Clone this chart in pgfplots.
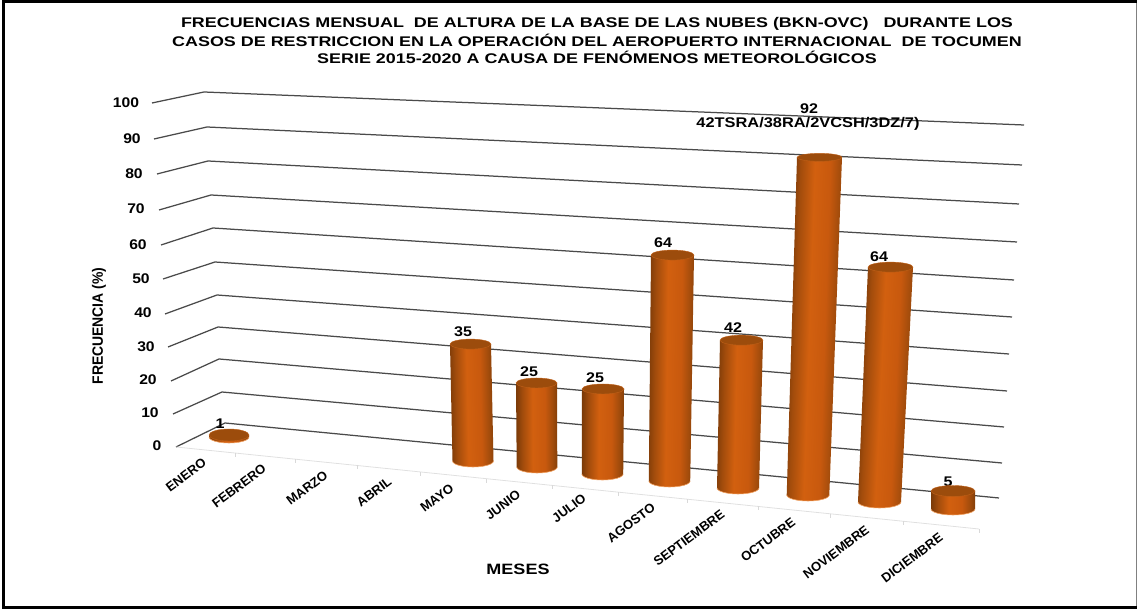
\documentclass[border=0pt]{standalone}
\usepackage{pgfplots}
\pgfplotsset{compat=1.18}
\usepackage{fontspec}
\setmainfont{Liberation Sans}
\definecolor{cylA}{HTML}{7A3A08}
\definecolor{cylB}{HTML}{A24C0C}
\definecolor{cylC}{HTML}{D2600F}
\definecolor{cylD}{HTML}{C8590E}
\definecolor{cylE}{HTML}{843F08}
\definecolor{cylTop}{HTML}{9C4C0C}
\definecolor{cylRim}{HTML}{C06018}
\definecolor{cylLow}{HTML}{F0A060}
\definecolor{gridc}{HTML}{4A4A4A}
\pgfdeclarehorizontalshading{cyl}{100bp}{color(0bp)=(cylA); color(25bp)=(cylA); color(33bp)=(cylB); color(45bp)=(cylC); color(60bp)=(cylD); color(69bp)=(cylB); color(75bp)=(cylE); color(100bp)=(cylE)}
\pgfdeclarehorizontalshading{cyltilt}{100bp}{color(0bp)=(cylA); color(29bp)=(cylA); color(35bp)=(cylB); color(46bp)=(cylC); color(58bp)=(cylD); color(66bp)=(cylB); color(71bp)=(cylE); color(100bp)=(cylE)}
% One cylinder: base x, base y (px), top x, VALUE, px per unit, half widths, half heights
\newcommand\cyl[9]{%
  \pgfmathsetmacro\ybase{609-#2}%
  \pgfmathsetmacro\ytop{609-#2+#4*#5}%
  \pgfmathsetmacro\xtl{#3-#7}\pgfmathsetmacro\xtr{#3+#7}%
  \pgfmathsetmacro\ang{-atan((#3-#1)/(#4*#5))}%
  \pgfmathsetmacro\ysc{#9/#7}%
  \pgfmathparse{abs(#3-#1)>6?"cyltilt":"cyl"}\edef\shn{\pgfmathresult}%
  \gdef\pts{}%
  \foreach \t in {0,15,...,180}{%
    \pgfmathsetmacro\px{#1+#6*cos(\t)}%
    \pgfmathsetmacro\py{\ybase-#8*sin(\t)}%
    \xdef\pts{\pts(\px,\py)}%
  }%
  \edef\doit{%
    \noexpand\addplot[draw=none,forget plot,no marks,shade,shading=\shn,shading angle=\ang]
      coordinates {(\xtl,\ytop)(\xtr,\ytop)\pts} -- cycle;
    \noexpand\addplot[forget plot,no marks,draw=cylLow,line width=0.6pt]
      coordinates {\pts};
    \noexpand\addplot[forget plot,only marks,mark=*,mark size=#7pt,
      mark options={fill=cylTop,draw=cylRim,line width=0.4pt,yscale=\ysc}]
      coordinates {(#3,\ytop)};
  }\doit
}
\newcommand\lab[5][]{\node[font=\bfseries\fontsize{#2}{#2}\selectfont,text=black,inner sep=0pt,#1] at #4 {\scalebox{#3}[1]{#5}};}
\begin{document}
\begin{tikzpicture}
\begin{axis}[hide axis,scale only axis,width=1138pt,height=609pt,
  xmin=0,xmax=1138,ymin=0,ymax=609,clip=false]
\path (axis cs:0,0) rectangle (axis cs:1138,609);
% frame
\addplot[gray,line width=1.6pt,forget plot,no marks] coordinates {(1136.5,1.5)(1136.5,607.5)};
\addplot[black,line width=3pt,forget plot,no marks] coordinates {(1136.5,607.5)(3,607.5)(3,1.5)(1136.5,1.5)};
% gridlines: left edge, back corner, right end
\addplot[gridc,line width=1.25pt,forget plot,no marks] coordinates {(176,162)(225,186)(999,111)};
\addplot[gridc,line width=1.25pt,forget plot,no marks] coordinates {(173,195)(222,217)(1002,146)};
\addplot[gridc,line width=1.25pt,forget plot,no marks] coordinates {(171,228)(219,250)(1004,182)};
\addplot[gridc,line width=1.25pt,forget plot,no marks] coordinates {(168,262)(218,282)(1007,218)};
\addplot[gridc,line width=1.25pt,forget plot,no marks] coordinates {(165,295)(217,314)(1009,255)};
\addplot[gridc,line width=1.25pt,forget plot,no marks] coordinates {(163,330)(215,347)(1012,292)};
\addplot[gridc,line width=1.25pt,forget plot,no marks] coordinates {(161,364)(213,381)(1014,329)};
\addplot[gridc,line width=1.25pt,forget plot,no marks] coordinates {(159,399)(211,414)(1017,367)};
\addplot[gridc,line width=1.25pt,forget plot,no marks] coordinates {(157,435)(208,448)(1019,405)};
\addplot[gridc,line width=1.25pt,forget plot,no marks] coordinates {(154,470)(207,482)(1022,444)};
\addplot[gridc,line width=1.25pt,forget plot,no marks] coordinates {(152,506)(204,517)(1024,484)};
% floor edge and ticks
\addplot[black!12,line width=0.8pt,forget plot,no marks] coordinates {(176,162)(979,80)};
\addplot[black!15,line width=0.7pt,forget plot,no marks] coordinates {(235,156)(235,152)};
\addplot[black!15,line width=0.7pt,forget plot,no marks] coordinates {(295,150)(295,146)};
\addplot[black!15,line width=0.7pt,forget plot,no marks] coordinates {(357,144)(357,140)};
\addplot[black!15,line width=0.7pt,forget plot,no marks] coordinates {(420,137)(420,133)};
\addplot[black!15,line width=0.7pt,forget plot,no marks] coordinates {(486,130)(486,126)};
\addplot[black!15,line width=0.7pt,forget plot,no marks] coordinates {(552,124)(552,120)};
\addplot[black!15,line width=0.7pt,forget plot,no marks] coordinates {(618,117)(618,113)};
\addplot[black!15,line width=0.7pt,forget plot,no marks] coordinates {(687,110)(687,106)};
\addplot[black!15,line width=0.7pt,forget plot,no marks] coordinates {(758,103)(758,99)};
\addplot[black!15,line width=0.7pt,forget plot,no marks] coordinates {(830,95)(830,91)};
\addplot[black!15,line width=0.7pt,forget plot,no marks] coordinates {(903,88)(903,84)};
\addplot[black!15,line width=0.7pt,forget plot,no marks] coordinates {(979,80)(979,76)};
% cylinders
\cyl{229}{437}{229}{1}{2}{20}{20}{6}{6}
\cyl{473}{461}{470.5}{35}{3.34}{20.5}{20.5}{6}{5}
\cyl{537}{467}{536.5}{25}{3.36}{20.3}{20.5}{6}{5}
\cyl{602.5}{474}{603}{25}{3.4}{20.7}{21}{6}{5}
\cyl{669.5}{481}{672.5}{64}{3.53}{20.7}{21.5}{6}{5}
\cyl{738}{488}{741.5}{42}{3.52}{21}{21.5}{6}{5}
\cyl{808}{495}{819.5}{92}{3.67}{21.3}{22.5}{6}{4}
\cyl{879.5}{502}{890.5}{64}{3.67}{21.5}{22.5}{6}{5}
\cyl{953}{509}{953}{5}{3.6}{22}{22}{6}{5.5}
% data labels
\lab{14}{1.15}{(axis cs:220,185)}{1}
\lab{14}{1.15}{(axis cs:463,277)}{35}
\lab{14}{1.15}{(axis cs:529,237)}{25}
\lab{14}{1.15}{(axis cs:595,231)}{25}
\lab{14}{1.15}{(axis cs:663,366)}{64}
\lab{14}{1.15}{(axis cs:733,281)}{42}
\lab{14}{1.15}{(axis cs:809,500)}{92}
\lab{14}{1.17}{(axis cs:808,485)}{42TSRA/38RA/2VCSH/3DZ/7)}
\lab{14}{1.15}{(axis cs:879,352)}{64}
\lab{14}{1.15}{(axis cs:948,127)}{5}
% y labels
\lab{14}{1.12}{(axis cs:126,506)}{100}
\lab{14}{1.12}{(axis cs:132,470)}{90}
\lab{14}{1.12}{(axis cs:134,435)}{80}
\lab{14}{1.12}{(axis cs:136,400)}{70}
\lab{14}{1.12}{(axis cs:138,364)}{60}
\lab{14}{1.12}{(axis cs:141,330)}{50}
\lab{14}{1.12}{(axis cs:143,296)}{40}
\lab{14}{1.12}{(axis cs:146,262)}{30}
\lab{14}{1.12}{(axis cs:148,229)}{20}
\lab{14}{1.12}{(axis cs:150,196)}{10}
\lab{14}{1.12}{(axis cs:157,163)}{0}
% month labels
\lab[rotate=37]{13}{1}{(axis cs:186,134)}{ENERO}
\lab[rotate=37]{13}{1}{(axis cs:239,123)}{FEBRERO}
\lab[rotate=37]{13}{1}{(axis cs:307,121)}{MARZO}
\lab[rotate=37]{13}{1}{(axis cs:374,117)}{ABRIL}
\lab[rotate=37]{13}{1}{(axis cs:437,111)}{MAYO}
\lab[rotate=37]{13}{1}{(axis cs:503,104)}{JUNIO}
\lab[rotate=37]{13}{1}{(axis cs:569,101)}{JULIO}
\lab[rotate=37]{13}{1}{(axis cs:631,86)}{AGOSTO}
\lab[rotate=37]{13}{1}{(axis cs:689,71)}{SEPTIEMBRE}
\lab[rotate=37]{13}{1}{(axis cs:768,69)}{OCTUBRE}
\lab[rotate=37]{13}{1}{(axis cs:836,57)}{NOVIEMBRE}
\lab[rotate=37]{13}{1}{(axis cs:912,51)}{DICIEMBRE}
% axis titles
\lab[rotate=90]{15}{0.93}{(axis cs:99,283)}{FRECUENCIA (\%)}
\lab{15}{1.2}{(axis cs:518,40)}{MESES}
% title
\lab{14}{1.28}{(axis cs:597,585)}{FRECUENCIAS MENSUAL\ \ DE ALTURA DE LA BASE DE LAS NUBES (BKN-OVC)\ \ \ DURANTE LOS}
\lab{14}{1.28}{(axis cs:597,569)}{CASOS DE RESTRICCION EN LA OPERACIÓN DEL AEROPUERTO INTERNACIONAL\ \ DE TOCUMEN}
\lab{14}{1.28}{(axis cs:597,552)}{SERIE 2015-2020 A CAUSA DE FENÓMENOS METEOROLÓGICOS}
\end{axis}
\end{tikzpicture}
\end{document}
